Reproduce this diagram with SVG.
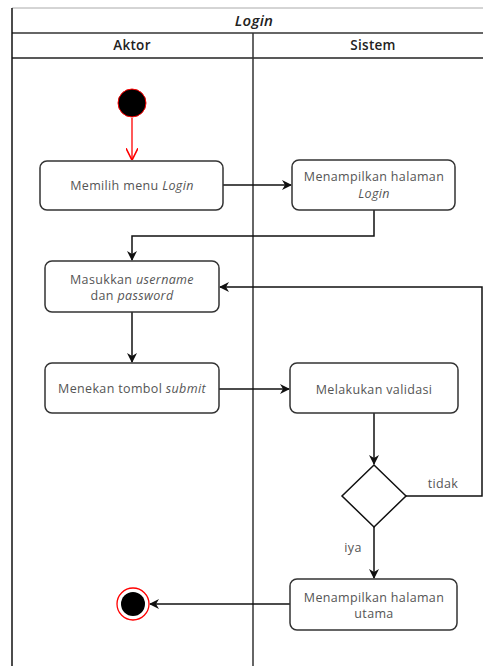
<svg xmlns="http://www.w3.org/2000/svg" width="483" height="666" viewBox="0 0 483 666">
  <defs>
    <style>
      .lbl { font-family: "Open Sans", "Liberation Sans", sans-serif; font-size: 12.5px; letter-spacing: 0.35px; fill: #555; text-anchor: middle; }
      .hdr { font-family: "Open Sans", "Liberation Sans", sans-serif; font-size: 13.5px; letter-spacing: 0.3px; fill: #222; text-anchor: middle; font-weight: 600; }
      .act { fill: #fff; stroke: #333; stroke-width: 1.5; }
      .flow { fill: none; stroke: #111; stroke-width: 1.5; }
    </style>
    <marker id="arr" viewBox="0 0 10 10" refX="9" refY="5" markerWidth="10" markerHeight="10" markerUnits="userSpaceOnUse" orient="auto">
      <path d="M0,0 L10,5 L0,10 L3,5 Z" fill="#111"/>
    </marker>
    <marker id="arrRed" viewBox="0 0 10 10" refX="9" refY="5" markerWidth="12" markerHeight="12" markerUnits="userSpaceOnUse" orient="auto">
      <path d="M0,0 L10,5 L0,10" fill="none" stroke="#f00" stroke-width="1.3"/>
    </marker>
  </defs>

  <rect width="483" height="666" fill="#fff"/>

  <!-- swimlane frame -->
  <g id="pool">
    <line x1="12" y1="8" x2="483" y2="8" stroke="#aaa" stroke-width="1"/>
    <line x1="12" y1="33" x2="483" y2="33" stroke="#666" stroke-width="2"/>
    <line x1="12" y1="58" x2="483" y2="58" stroke="#222" stroke-width="1.5"/>
    <line x1="12" y1="8" x2="12" y2="666" stroke="#111" stroke-width="1.5"/>
    <line x1="253" y1="33" x2="253" y2="666" stroke="#333" stroke-width="1.5"/>
    <text x="254" y="26" class="hdr" style="font-style:italic;font-weight:600;font-size:15px">Login</text>
    <text x="132" y="50" class="hdr">Aktor</text>
    <text x="373" y="50" class="hdr">Sistem</text>
  </g>

  <!-- connectors -->
  <g id="connectors">
    <line x1="132" y1="118" x2="132" y2="159" stroke="#f00" stroke-width="1.3" marker-end="url(#arrRed)"/>
    <line x1="223" y1="185" x2="291" y2="185" class="flow" marker-end="url(#arr)"/>
    <polyline points="374,210 374,236 132,236 132,260" class="flow" marker-end="url(#arr)"/>
    <line x1="132" y1="312" x2="132" y2="362" class="flow" marker-end="url(#arr)"/>
    <line x1="219" y1="389" x2="289" y2="389" class="flow" marker-end="url(#arr)"/>
    <line x1="374" y1="413" x2="374" y2="464" class="flow" marker-end="url(#arr)"/>
    <polyline points="406,496 482,496 482,287 220,287" class="flow" marker-end="url(#arr)"/>
    <line x1="374" y1="527" x2="374" y2="578" class="flow" marker-end="url(#arr)"/>
    <line x1="290" y1="604" x2="150" y2="604" class="flow" marker-end="url(#arr)"/>
    <text x="443" y="488" class="lbl">tidak</text>
    <text x="353" y="552" class="lbl">iya</text>
  </g>

  <g id="start">
    <circle cx="132" cy="103" r="14" fill="#000" stroke="#f00" stroke-width="1"/>
  </g>

  <g id="pilihMenu">
    <rect x="40" y="161" width="183" height="49" rx="7" class="act"/>
    <text x="132" y="190" class="lbl">Memilih menu <tspan font-style="italic">Login</tspan></text>
  </g>

  <g id="tampilLogin">
    <rect x="292" y="160" width="163" height="50" rx="7" class="act"/>
    <text x="374" y="181" class="lbl">Menampilkan halaman</text>
    <text x="374" y="198" class="lbl" font-style="italic">Login</text>
  </g>

  <g id="masukkan">
    <rect x="45" y="261" width="174" height="51" rx="7" class="act"/>
    <text x="132" y="284" class="lbl">Masukkan <tspan font-style="italic">username</tspan></text>
    <text x="132" y="300" class="lbl">dan <tspan font-style="italic">password</tspan></text>
  </g>

  <g id="submit">
    <rect x="45" y="363" width="174" height="50" rx="7" class="act"/>
    <text x="132" y="393" class="lbl">Menekan tombol <tspan font-style="italic">submit</tspan></text>
  </g>

  <g id="validasi">
    <rect x="290" y="363" width="168" height="50" rx="7" class="act"/>
    <text x="374" y="394" class="lbl">Melakukan validasi</text>
  </g>

  <g id="keputusan">
    <polygon points="374,465 406,496 374,527 342,496" fill="#fff" stroke="#111" stroke-width="1.5"/>
  </g>

  <g id="tampilUtama">
    <rect x="290" y="579" width="167" height="51" rx="7" class="act"/>
    <text x="374" y="602" class="lbl">Menampilkan halaman</text>
    <text x="374" y="618" class="lbl">utama</text>
  </g>

  <g id="end">
    <circle cx="133" cy="604" r="16" fill="#fff" stroke="#f00" stroke-width="1.3"/>
    <circle cx="133" cy="604" r="12" fill="#000"/>
  </g>
</svg>
